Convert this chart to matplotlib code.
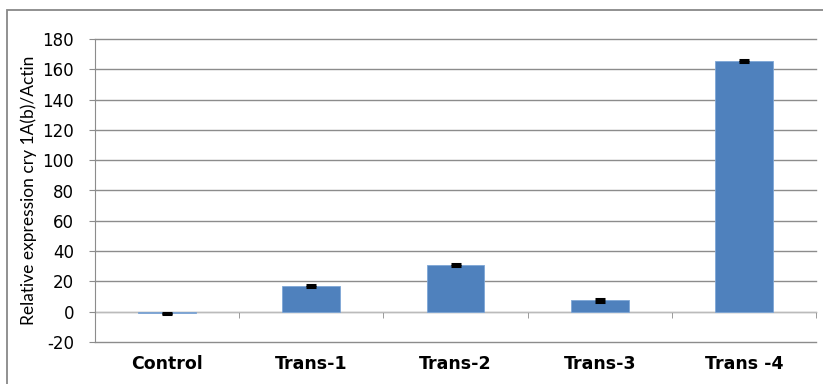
import numpy as np
import matplotlib
matplotlib.use('Agg')
from matplotlib import pyplot as plt
from matplotlib.patches import Rectangle

plt.rcParams['axes.unicode_minus'] = False

categories = ['Control', 'Trans-1', 'Trans-2', 'Trans-3', 'Trans -4']
values = [-1.0, 17.2, 31.0, 7.5, 165.5]
errors = [0.4, 0.6, 0.6, 1.0, 0.7]
y_ticks = list(range(-20, 181, 20))

BAR_COLOR = '#4F81BD'
GRID_COLOR = '#8c8c8c'

fig = plt.figure(figsize=(8.23, 3.84), dpi=100)
ax = fig.add_axes([95 / 823, 42 / 384, 721 / 823, 303 / 384])

x = np.arange(len(categories))
ax.bar(x, values, width=0.4, color=BAR_COLOR, edgecolor='#7ea6d6', linewidth=0.6, zorder=3)
ax.errorbar(x, values, yerr=errors, fmt='none', ecolor='black', elinewidth=1.2,
            capsize=3.8, capthick=2.2, zorder=4)

ax.set_xlim(-0.5, len(categories) - 0.5)
ax.set_ylim(-20, 180)
ax.set_yticks(y_ticks)
ax.yaxis.grid(True, color=GRID_COLOR, linewidth=1.0, zorder=0)
for gl in ax.get_ygridlines():
    gl.set_clip_on(False)
ax.set_axisbelow(True)

for s in ['top', 'right']:
    ax.spines[s].set_visible(False)
ax.spines['left'].set_color(GRID_COLOR)
ax.spines['bottom'].set_color('#bbbbbb')
ax.spines['bottom'].set_position(('data', 0))
ax.spines['bottom'].set_zorder(2)

ax.set_xticks(x)
ax.set_xticklabels(categories, fontsize=12.5, fontweight='bold')
ax.tick_params(axis='x', which='major', length=0, pad=31)
ax.set_xticks(np.arange(0.5, len(categories)), minor=True)
ax.tick_params(axis='x', which='minor', length=4, color=GRID_COLOR, direction='out')
ax.tick_params(axis='y', length=4, color=GRID_COLOR, labelsize=12, pad=11)

ax.set_ylabel('Relative expression cry 1A(b)/Actin', fontsize=12.5,
              family=['Lato', 'DejaVu Sans'], labelpad=4)

fig.patches.append(Rectangle((7 / 823, -0.1), 1.2, (374 / 384) + 0.1, transform=fig.transFigure,
                             fill=False, edgecolor='#888888', linewidth=1.3))

fig.savefig('out.png', dpi=100, facecolor='w')
